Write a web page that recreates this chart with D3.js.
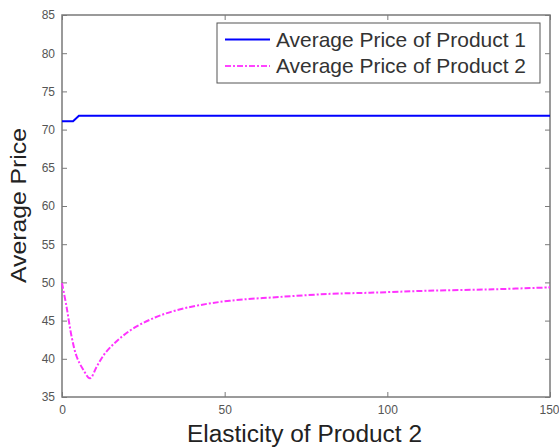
<!DOCTYPE html>
<html>
<head>
<meta charset="utf-8">
<script src="https://cdnjs.cloudflare.com/ajax/libs/d3/7.8.5/d3.min.js"></script>
<style>
body { margin: 0; background: #fff; }
svg { display: block; font-family: "Liberation Sans", Arial, sans-serif; }
.tick text { fill: #555; font-size: 12px; }
</style>
</head>
<body>
<script>
// values
var elasticity1 = [0, 3.4, 5.2, 150];
var price1 = [71.1, 71.1, 71.8, 71.8];

var elasticity2 = [0, 1.4, 3.0, 4.5, 6.5, 8.6, 10.7, 13.2, 17.3, 22.4, 28.6, 34.7, 42, 51.6, 67, 82.4, 94.7, 112, 132.6, 150];
var price2 = [49.9, 46.8, 42.8, 40.3, 38.6, 37.45, 39.0, 40.7, 42.5, 44.1, 45.4, 46.3, 47.0, 47.6, 48.1, 48.5, 48.65, 48.9, 49.1, 49.35];

var xTicks = [0, 50, 100, 150];
var yTicks = [35, 40, 45, 50, 55, 60, 65, 70, 75, 80, 85];
var seriesNames = ["Average Price of Product 1", "Average Price of Product 2"];

var width = 559, height = 448;
var margin = {top: 15, right: 9, bottom: 51, left: 62};

var svg = d3.select("body").append("svg")
  .attr("width", width)
  .attr("height", height);

var x = d3.scaleLinear().domain([0, 150]).range([margin.left, width - margin.right]);
var y = d3.scaleLinear().domain([35, 85]).range([height - margin.bottom, margin.top]);

var axisColor = "#7a7a7a";

// ticks inside on all four sides, labels only left/bottom
function styleAxis(g) {
  g.select(".domain").remove();
  g.selectAll(".tick line").attr("stroke", axisColor).attr("stroke-width", 1);
}

var xAxis = svg.append("g")
  .attr("transform", "translate(0," + y(35) + ")")
  .call(d3.axisBottom(x).tickValues(xTicks).tickSize(-5).tickPadding(8))
  .call(styleAxis);
// keep the last label inside the page
xAxis.selectAll(".tick text").filter(function(d) { return d === 150; })
  .attr("text-anchor", "end").attr("dx", 9);

svg.append("g")
  .attr("transform", "translate(0," + y(85) + ")")
  .call(d3.axisTop(x).tickValues(xTicks).tickSize(-5).tickFormat(""))
  .call(styleAxis);
svg.append("g")
  .attr("transform", "translate(" + x(0) + ",0)")
  .call(d3.axisLeft(y).tickValues(yTicks).tickSize(-5).tickPadding(7))
  .call(styleAxis);
svg.append("g")
  .attr("transform", "translate(" + x(150) + ",0)")
  .call(d3.axisRight(y).tickValues(yTicks).tickSize(-5).tickFormat(""))
  .call(styleAxis);

svg.append("rect")
  .attr("x", x(0)).attr("y", y(85))
  .attr("width", x(150) - x(0)).attr("height", y(35) - y(85))
  .attr("fill", "none").attr("stroke", axisColor).attr("stroke-width", 1.5);

var line = d3.line()
  .x(function(d) { return x(d[0]); })
  .y(function(d) { return y(d[1]); });

svg.append("path")
  .datum(d3.zip(elasticity1, price1))
  .attr("d", line)
  .attr("fill", "none")
  .attr("stroke", "#0000ff")
  .attr("stroke-width", 2);

svg.append("path")
  .datum(d3.zip(elasticity2, price2))
  .attr("d", line.curve(d3.curveCatmullRom.alpha(0.5)))
  .attr("fill", "none")
  .attr("stroke", "#ff33ff")
  .attr("stroke-width", 2)
  .attr("stroke-dasharray", "6,2,2,2");

// legend
var legend = svg.append("g");
legend.append("rect")
  .attr("x", 217).attr("y", 23).attr("width", 323).attr("height", 60)
  .attr("fill", "#fff").attr("stroke", "#555").attr("stroke-width", 1);
var styles = [{c: "#0000ff", d: null}, {c: "#ff44ff", d: "6,2,2,2"}];
seriesNames.forEach(function(name, i) {
  var cy = 39.5 + i * 26.5;
  legend.append("line")
    .attr("x1", 225).attr("x2", 270).attr("y1", cy).attr("y2", cy)
    .attr("stroke", styles[i].c).attr("stroke-width", 2)
    .attr("stroke-dasharray", styles[i].d);
  legend.append("text")
    .attr("x", 276).attr("y", cy).attr("dy", "0.35em")
    .attr("font-size", 21).attr("fill", "#333")
    .attr("textLength", 250).attr("lengthAdjust", "spacingAndGlyphs")
    .text(name);
});

svg.append("text")
  .attr("x", 187).attr("y", 442)
  .attr("font-size", 23).attr("fill", "#222")
  .attr("textLength", 235).attr("lengthAdjust", "spacingAndGlyphs")
  .text("Elasticity of Product 2");

svg.append("text")
  .attr("transform", "translate(26,283) rotate(-90)")
  .attr("font-size", 22).attr("fill", "#222")
  .attr("textLength", 155).attr("lengthAdjust", "spacingAndGlyphs")
  .text("Average Price");
</script>
</body>
</html>
